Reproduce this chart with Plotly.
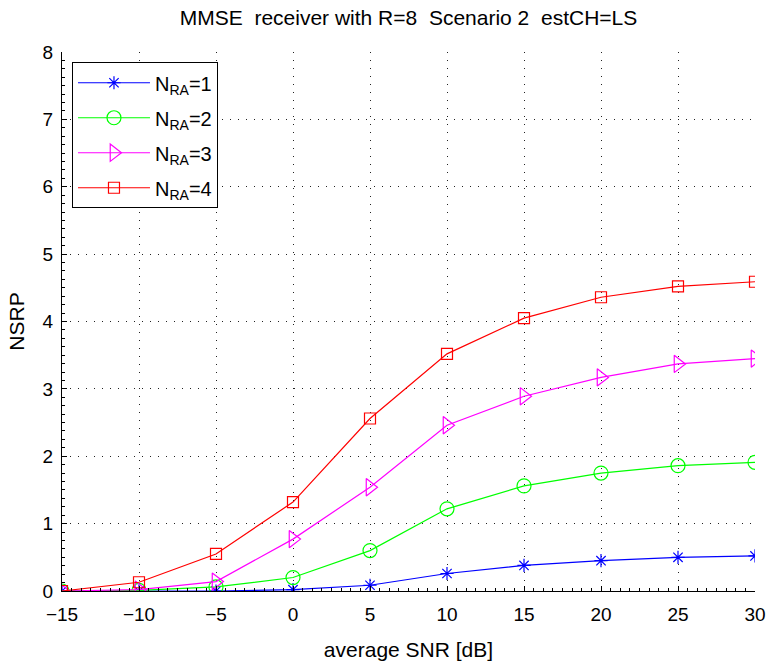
import plotly.graph_objects as go

snr = [-15, -10, -5, 0, 5, 10, 15, 20, 25, 30]
nra1 = [0.0, 0.0, 0.0, 0.02, 0.085, 0.26, 0.38, 0.45, 0.50, 0.52]
nra2 = [0.0, 0.01, 0.06, 0.20, 0.60, 1.22, 1.56, 1.75, 1.86, 1.91]
nra3 = [0.0, 0.02, 0.14, 0.77, 1.54, 2.46, 2.89, 3.17, 3.37, 3.45]
nra4 = [0.0, 0.13, 0.55, 1.32, 2.56, 3.52, 4.05, 4.36, 4.52, 4.59]
xticktext = ["\u221215", "\u221210", "\u22125", "0", "5", "10", "15", "20", "25", "30"]
names = ["N<sub>RA</sub>=1", "N<sub>RA</sub>=2", "N<sub>RA</sub>=3", "N<sub>RA</sub>=4"]
colors = ["#0000ff", "#00ff00", "#ff00ff", "#ff0000"]
symbols = ["asterisk-open", "circle-open", "triangle-right-open", "square-open"]
sizes = [11, 14, 15, 11]

fig = go.Figure()
for i, (ys, nm, c, s, sz) in enumerate(zip([nra1, nra2, nra3, nra4], names, colors, symbols, sizes)):
    fig.add_trace(go.Scatter(x=snr, y=ys, name=nm, mode="lines+markers", legendgroup=f"g{i}",
                             line=dict(color=c, width=1.2),
                             marker=dict(symbol=s, size=sz, color=c,
                                         line=dict(color=c, width=1.2))))

font = "Liberation Sans, Arial, Helvetica, sans-serif"
axcommon = dict(showgrid=True, gridcolor="#222222", griddash="1px,7px", gridwidth=1,
                showline=True, linecolor="#000000", linewidth=1,
                ticks="inside", ticklen=5, tickcolor="#000000", automargin=False,
                zeroline=False, tickfont=dict(size=19, color="#000000", family=font),
                mirror=False)
fig.update_xaxes(range=[-15, 30],
                 minor=dict(dtick=0.625, tick0=-15, ticks="inside", ticklen=3, tickcolor="#000000", showgrid=False),
                 title=dict(text="average SNR [dB]", font=dict(size=21, color="#000000", family=font), standoff=18),
                 tickvals=snr, ticktext=xticktext, ticklabelstandoff=6,
                 **axcommon)
fig.update_yaxes(range=[0, 8], dtick=1,
                 minor=dict(dtick=0.125, ticks="inside", ticklen=3, tickcolor="#000000", showgrid=False),
                 title=dict(text="NSRP", font=dict(size=21, color="#000000", family=font), standoff=12),
                 ticklabelstandoff=4,
                 **axcommon)

fig.update_layout(
    width=768, height=664,
    margin=dict(l=62, r=13, t=52, b=73),
    paper_bgcolor="white", plot_bgcolor="white",
    title=dict(text="MMSE  receiver with R=8  Scenario 2  estCH=LS", x=0.5, xref="paper", xanchor="center",
               y=1 - 18 / 664, yanchor="middle",
               font=dict(size=21, color="#000000", family=font)),
    font=dict(family=font, color="#000000"),
    legend=dict(x=0.0144, y=0.981, xanchor="left", yanchor="top",
                bordercolor="#000000", borderwidth=1, bgcolor="white",
                font=dict(size=20, color="#000000", family=font),
                itemwidth=72, tracegroupgap=6),
    showlegend=True,
)

fig.write_html("out.html")
